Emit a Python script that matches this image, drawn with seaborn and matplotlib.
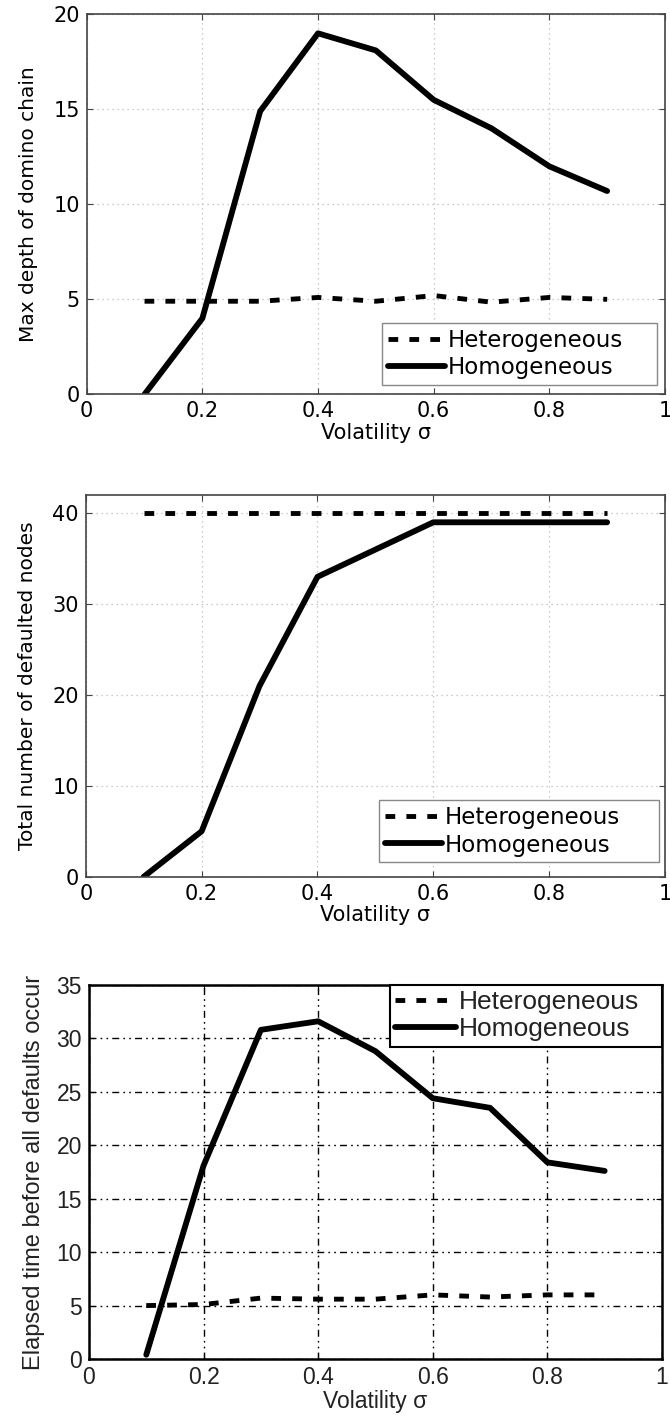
import matplotlib
matplotlib.use("Agg")
import matplotlib.pyplot as plt
import seaborn as sns
import numpy as np

sigma = [0.1, 0.2, 0.3, 0.4, 0.5, 0.6, 0.7, 0.8, 0.9]

depth_het = [4.9, 4.9, 4.9, 5.1, 4.9, 5.2, 4.85, 5.1, 5.0]
depth_hom = [0.0, 4.0, 14.9, 19.0, 18.1, 15.5, 14.0, 12.0, 10.7]

nodes_het = [40, 40, 40, 40, 40, 40, 40, 40, 40]
nodes_hom = [0, 5, 21, 33, 36, 39, 39, 39, 39]

time_het = [5.0, 5.1, 5.7, 5.6, 5.6, 6.0, 5.8, 6.0, 6.0]
time_hom = [0.4, 18.1, 30.8, 31.6, 28.8, 24.4, 23.5, 18.4, 17.6]

series_labels = ["Heterogeneous", "Homogeneous"]
xlabel = "Volatility σ"
ylabels = ["Max depth of domino chain",
           "Total number of defaulted nodes",
           "Elapsed time before all defaults occur"]
xticks = [0, 0.2, 0.4, 0.6, 0.8, 1]
xticklabels = ["0", "0.2", "0.4", "0.6", "0.8", "1"]
yticks = [[0, 5, 10, 15, 20], [0, 10, 20, 30, 40], [0, 5, 10, 15, 20, 25, 30, 35]]
ylims = [(0, 20), (0, 42), (0, 35)]

sns.set_style("white")
plt.rcParams['font.family'] = ['DejaVu Sans']

fig = plt.figure(figsize=(6.7, 14.18), dpi=100)

positions = [
    [0.1294, 0.7219, 0.8631, 0.2680],
    [0.1280, 0.3817, 0.8646, 0.2692],
    [0.1328, 0.0416, 0.8552, 0.2638],
]
legend_boxes = [
    (0.511, 0.0245, 0.475, 0.2),
    (0.507, 0.038, 0.482, 0.2),
    (0.525, 0.0, 0.475, 1.0),
]
data = [(depth_het, depth_hom), (nodes_het, nodes_hom), (time_het, time_hom)]

for i, (pos, (het, hom)) in enumerate(zip(positions, data)):
    ax = fig.add_axes(pos)
    new_style = i < 2
    if new_style:
        fam = ['DejaVu Sans']
        fs_tick, fs_xlab, fs_ylab, fs_leg = 15, 15, 14.5, 16.5
        tcol = 'black'
    else:
        fam = ['Liberation Sans', 'DejaVu Sans']
        fs_tick, fs_xlab, fs_ylab, fs_leg = 16.5, 16.5, 17, 19
        tcol = '#222222'

    sns.lineplot(x=sigma, y=het, ax=ax, color='black', lw=3.5,
                 label=series_labels[0])
    sns.lineplot(x=sigma, y=hom, ax=ax, color='black', lw=4.2,
                 label=series_labels[1])
    lines = ax.get_lines()
    lines[0].set_dashes((2.0, 2.3))
    lines[0].set_dash_capstyle('butt')

    ax.set_xlim(0, 1)
    ax.set_ylim(*ylims[i])
    ax.set_xticks(xticks)
    ax.set_xticklabels(xticklabels, family=fam, fontsize=fs_tick, color=tcol)
    ax.set_yticks(yticks[i])
    ax.set_yticklabels([str(t) for t in yticks[i]], family=fam,
                       fontsize=fs_tick, color=tcol)
    ax.set_xlabel(xlabel, family=fam, fontsize=fs_xlab, labelpad=1, color=tcol)
    ax.set_ylabel(ylabels[i], family=fam, fontsize=fs_ylab,
                  labelpad=11 if new_style else 8, color=tcol)

    ax.tick_params(direction='in', length=4, width=0.8, top=True, right=True,
                   bottom=True, left=True, pad=5,
                   color='#444444' if new_style else 'black')

    if new_style:
        ax.grid(True, linestyle=(0, (1, 3)), color='#bbbbbb', lw=0.9)
        for s in ax.spines.values():
            s.set_color('#444444')
            s.set_linewidth(1.2)
            s.set_visible(True)
    else:
        ax.grid(True, linestyle=(0, (5, 3, 1.2, 3, 1.2, 3)), color='black', lw=1.0)
        for s in ax.spines.values():
            s.set_color('black')
            s.set_linewidth(1.8)
            s.set_visible(True)
    ax.set_axisbelow(True)

    if new_style:
        leg = ax.legend(loc='lower left', bbox_to_anchor=legend_boxes[i],
                        mode='expand', frameon=True, fancybox=False,
                        handlelength=2.5, handletextpad=0.1, borderpad=0.25,
                        labelspacing=0.2, borderaxespad=0.0,
                        prop={'family': fam, 'size': fs_leg})
        leg.get_frame().set_edgecolor('#888888')
        leg.get_frame().set_linewidth(1.0)
    else:
        leg = ax.legend(loc='upper left', bbox_to_anchor=legend_boxes[i],
                        mode='expand', frameon=True, fancybox=False,
                        handlelength=2.3, handletextpad=0.1, borderpad=0.2,
                        labelspacing=0.12, borderaxespad=0.0,
                        prop={'family': fam, 'size': fs_leg})
        leg.get_frame().set_edgecolor('black')
        leg.get_frame().set_linewidth(1.5)
    for t in leg.get_texts():
        t.set_color(tcol)
    leg.get_frame().set_alpha(1)

fig.savefig("out.png", dpi=100)
